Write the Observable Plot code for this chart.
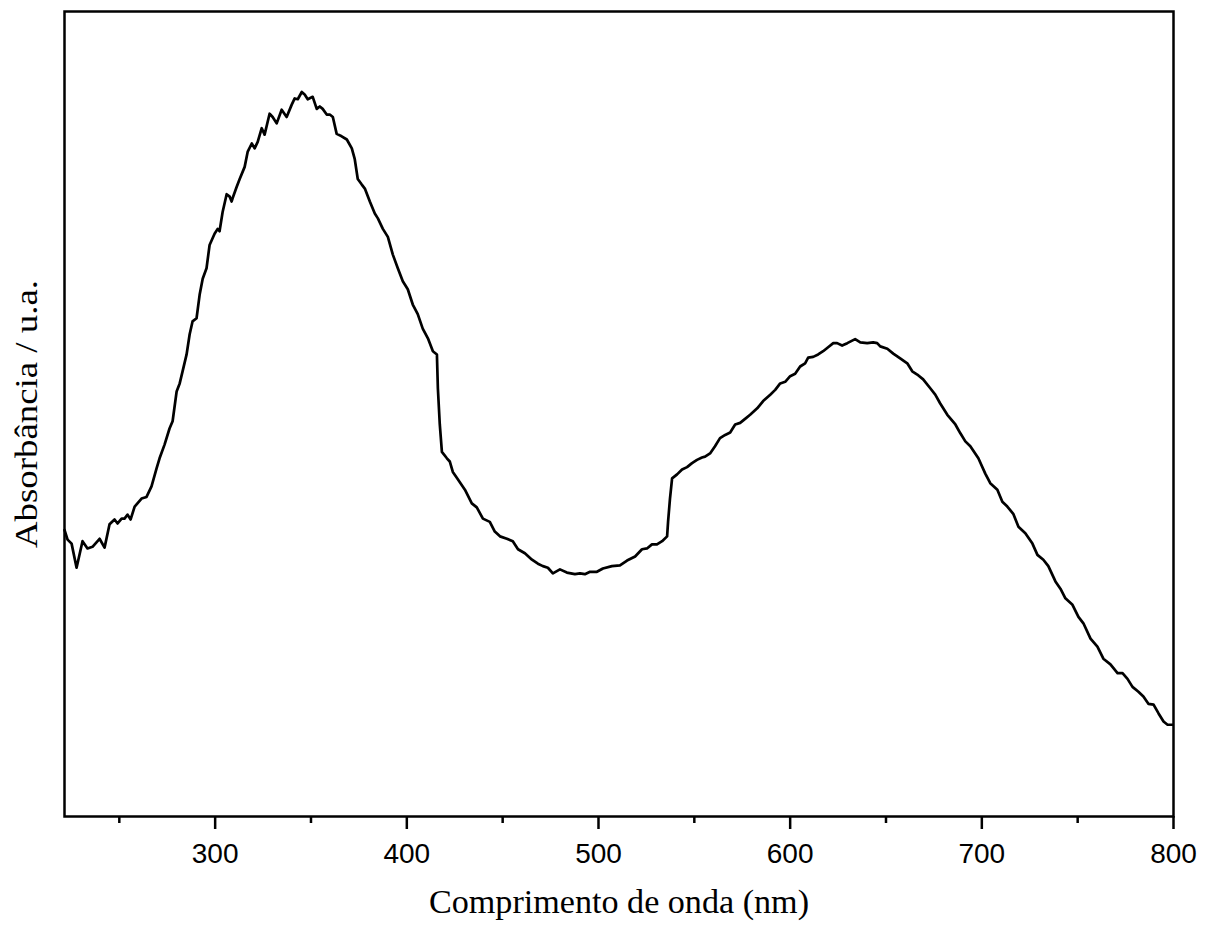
<!DOCTYPE html>
<html>
<head>
<meta charset="utf-8">
<script src="https://cdn.jsdelivr.net/npm/d3@7"></script>
<script src="https://cdn.jsdelivr.net/npm/@observablehq/plot@0.6"></script>
<style>
  html, body { margin: 0; padding: 0; background: #fff; }
  #chart { width: 1210px; height: 926px; }
  #chart svg g[aria-label="x-axis tick label"] {
    font-size: 28px !important;
    font-family: "Liberation Sans", Arial, sans-serif !important;
  }
</style>
</head>
<body>
<div id="chart"></div>
<script>
// Wavelength (nm)
const wavelength = [
  221.4, 223.0, 225.1, 227.7, 230.8, 233.4, 236.0, 239.7, 242.3, 244.9,
  247.5, 249.1, 251.2, 252.7, 254.3, 255.9, 258.0, 261.6, 264.2, 266.8,
  269.4, 271.0, 273.6, 276.2, 277.8, 279.9, 281.5, 283.0, 285.1, 286.7,
  288.2, 290.3, 291.9, 293.5, 295.5, 297.1, 299.7, 301.3, 302.3, 303.9,
  306.0, 307.6, 308.6, 309.1, 311.2, 312.8, 315.4, 317.0, 319.1, 320.6,
  322.2, 324.3, 325.8, 328.4, 330.0, 332.1, 334.7, 337.3, 339.9, 341.5,
  343.1, 345.2, 346.7, 348.3, 350.9, 353.0, 354.6, 356.1, 358.2, 359.8,
  361.4, 363.4, 366.0, 368.7, 371.3, 372.8, 374.4, 376.5, 378.1, 380.7,
  383.3, 384.9, 387.5, 390.1, 392.7, 395.3, 397.9, 400.5, 403.1, 405.7,
  408.3, 411.0, 413.6, 415.7, 416.2, 417.2, 418.3, 420.9, 422.4, 424.0,
  426.6, 430.3, 433.9, 436.5, 439.7, 443.3, 445.9, 448.6, 452.2, 455.3,
  458.0, 461.6, 465.3, 468.4, 471.0, 473.6, 476.2, 479.9, 483.5, 487.7,
  490.3, 492.9, 495.6, 499.2, 502.3, 507.0, 511.2, 514.9, 519.1, 522.7,
  525.3, 527.9, 530.5, 533.2, 535.8, 536.3, 537.3, 538.4, 541.0, 543.6,
  546.2, 548.8, 551.4, 554.0, 555.6, 558.2, 560.8, 563.4, 566.1, 568.7,
  571.3, 573.9, 576.5, 579.1, 582.8, 585.9, 589.6, 592.2, 594.8, 597.4,
  600.0, 602.6, 605.2, 607.8, 609.4, 612.0, 614.6, 617.2, 619.8, 622.5,
  624.5, 627.1, 629.8, 633.9, 636.6, 640.2, 643.3, 645.4, 647.0, 650.7,
  653.8, 657.4, 661.1, 663.7, 666.3, 669.4, 673.1, 675.7, 678.3, 682.0,
  686.2, 688.8, 691.4, 694.0, 698.2, 701.8, 704.4, 708.1, 710.7, 713.3,
  716.4, 719.1, 722.7, 726.4, 729.0, 732.1, 734.7, 738.4, 741.0, 743.6,
  747.3, 750.4, 753.0, 756.7, 760.3, 763.4, 767.1, 770.8, 773.4, 776.0,
  778.6, 781.7, 784.3, 786.9, 789.6, 792.2, 794.8, 796.9, 799.5
];
// Absorbance (arbitrary units)
const absorbance = [
  0.356, 0.344, 0.339, 0.309, 0.342, 0.333, 0.335, 0.345, 0.334, 0.363,
  0.369, 0.364, 0.370, 0.370, 0.375, 0.369, 0.385, 0.395, 0.397, 0.410,
  0.432, 0.445, 0.462, 0.482, 0.491, 0.528, 0.538, 0.553, 0.574, 0.599,
  0.615, 0.619, 0.648, 0.668, 0.681, 0.710, 0.724, 0.730, 0.727, 0.751,
  0.773, 0.770, 0.764, 0.768, 0.782, 0.792, 0.807, 0.826, 0.836, 0.830,
  0.838, 0.855, 0.847, 0.873, 0.869, 0.861, 0.878, 0.869, 0.884, 0.892,
  0.891, 0.900, 0.897, 0.891, 0.894, 0.879, 0.882, 0.879, 0.872, 0.872,
  0.869, 0.848, 0.845, 0.841, 0.830, 0.817, 0.792, 0.785, 0.780, 0.764,
  0.749, 0.743, 0.730, 0.720, 0.698, 0.681, 0.665, 0.655, 0.636, 0.624,
  0.606, 0.594, 0.578, 0.574, 0.532, 0.487, 0.453, 0.445, 0.441, 0.428,
  0.419, 0.406, 0.389, 0.384, 0.370, 0.366, 0.354, 0.348, 0.345, 0.342,
  0.332, 0.327, 0.319, 0.314, 0.311, 0.309, 0.302, 0.307, 0.303, 0.301,
  0.302, 0.301, 0.304, 0.304, 0.308, 0.311, 0.312, 0.318, 0.323, 0.332,
  0.333, 0.338, 0.338, 0.342, 0.348, 0.366, 0.395, 0.420, 0.425, 0.431,
  0.434, 0.439, 0.443, 0.446, 0.447, 0.451, 0.460, 0.470, 0.474, 0.477,
  0.487, 0.489, 0.494, 0.499, 0.507, 0.516, 0.524, 0.530, 0.538, 0.540,
  0.547, 0.550, 0.559, 0.563, 0.570, 0.571, 0.574, 0.578, 0.583, 0.588,
  0.588, 0.585, 0.588, 0.593, 0.589, 0.588, 0.589, 0.588, 0.584, 0.581,
  0.575, 0.569, 0.563, 0.553, 0.549, 0.543, 0.532, 0.524, 0.513, 0.499,
  0.487, 0.476, 0.466, 0.460, 0.445, 0.426, 0.414, 0.406, 0.391, 0.385,
  0.376, 0.360, 0.352, 0.339, 0.325, 0.319, 0.311, 0.292, 0.283, 0.271,
  0.263, 0.248, 0.240, 0.221, 0.211, 0.196, 0.189, 0.178, 0.178, 0.171,
  0.161, 0.155, 0.149, 0.140, 0.139, 0.128, 0.118, 0.114, 0.114
];
const majorTicks = [300, 400, 500, 600, 700, 800];
const minorTicks = [250, 350, 450, 550, 650, 750];
const xTitle = "Comprimento de onda (nm)";
const yTitle = "Absorbância / u.a.";

const data = wavelength.map((w, i) => ({w, a: absorbance[i]}));

const chart = Plot.plot({
  width: 1210,
  height: 926,
  marginLeft: 64,
  marginRight: 37,
  marginTop: 11,
  marginBottom: 110,
  style: {background: "#fff", color: "#000"},
  x: {domain: [221.4, 800]},
  y: {domain: [0, 1]},
  marks: [
    Plot.line(data, {x: "w", y: "a", stroke: "#000", strokeWidth: 2.7, strokeLinejoin: "round"}),
    Plot.frame({stroke: "#000", strokeWidth: 2.5}),
    Plot.axisX({ticks: majorTicks, tickSize: 13, tickPadding: 14, tickFormat: d => String(d),
      fontSize: 28, fontFamily: "Liberation Sans, Arial, sans-serif", label: null, strokeWidth: 2.5, stroke: "#000", fill: "#000"}),
    Plot.axisX({ticks: minorTicks, tickSize: 7, tickFormat: () => "", label: null, strokeWidth: 2.5, stroke: "#000"}),
    Plot.axisY({ticks: [], label: null}),
    Plot.text([xTitle], {text: d => d, frameAnchor: "bottom", textAnchor: "middle", lineAnchor: "middle",
      dy: 86, fontSize: 34, fontFamily: "Liberation Serif, Times New Roman, serif", fill: "#000"}),
    Plot.text([yTitle], {text: d => d, frameAnchor: "left", textAnchor: "middle", lineAnchor: "middle",
      dx: -37, rotate: -90, fontSize: 31, fontFamily: "Liberation Serif, Times New Roman, serif", fill: "#000"})
  ]
});
document.getElementById("chart").appendChild(chart);

// stretch the titles to the length they have in the reference
d3.select(chart).selectAll("text").each(function() {
  const t = this.textContent;
  if (t === xTitle) d3.select(this).attr("textLength", 380).attr("lengthAdjust", "spacingAndGlyphs");
  if (t === yTitle) d3.select(this).attr("textLength", 268).attr("lengthAdjust", "spacingAndGlyphs");
});
</script>
</body>
</html>
